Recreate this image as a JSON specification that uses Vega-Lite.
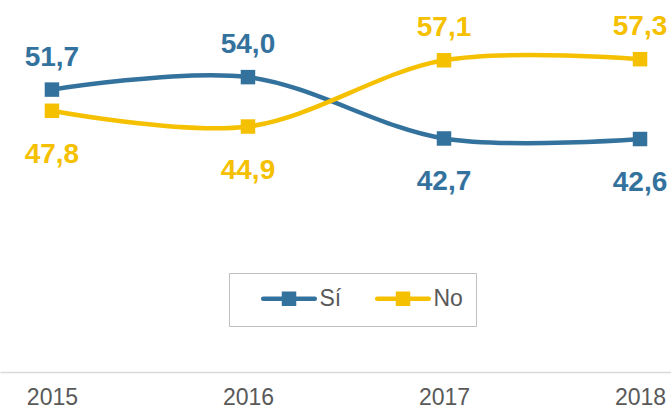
{
  "$schema": "https://vega.github.io/schema/vega-lite/v6.json",
  "width": 671,
  "height": 372,
  "autosize": "none",
  "padding": {"left": 0, "top": 0, "right": 0, "bottom": 39},
  "config": {
    "view": {"stroke": null},
    "font": "Liberation Sans",
    "locale": {"number": {"decimal": ",", "thousands": ".", "grouping": [3], "currency": ["", " €"]}}
  },
  "data": {
    "values": [
      {"year": 2015, "serie": "Sí", "value": 51.7},
      {"year": 2016, "serie": "Sí", "value": 54.0},
      {"year": 2017, "serie": "Sí", "value": 42.7},
      {"year": 2018, "serie": "Sí", "value": 42.6},
      {"year": 2015, "serie": "No", "value": 47.8},
      {"year": 2016, "serie": "No", "value": 44.9},
      {"year": 2017, "serie": "No", "value": 57.1},
      {"year": 2018, "serie": "No", "value": 57.3}
    ]
  },
  "encoding": {
    "x": {
      "field": "year",
      "type": "quantitative",
      "scale": {"domain": [2014.735, 2018.158], "nice": false, "zero": false},
      "axis": {
        "values": [2015, 2016, 2017, 2018],
        "format": "d",
        "ticks": false,
        "grid": false,
        "domainColor": "#d9d9d9",
        "domainWidth": 1.5,
        "labelFontSize": 23,
        "labelColor": "#595959",
        "labelPadding": 14,
        "labelFlush": false,
        "title": null
      }
    },
    "y": {
      "field": "value",
      "type": "quantitative",
      "scale": {"domain": [-0.3, 68.2], "nice": false, "zero": false},
      "axis": null
    },
    "color": {
      "field": "serie",
      "type": "nominal",
      "scale": {"domain": ["Sí", "No"], "range": ["#34729e", "#f5c000"]},
      "legend": {
        "title": " ",
        "titleOrient": "left",
        "titleFontSize": 2,
        "titlePadding": 18,
        "orient": "none",
        "legendX": 229,
        "legendY": 273,
        "direction": "horizontal",
        "symbolType": "M-2.58,0L2.58,0M-0.5,-0.5L0.5,-0.5L0.5,0.5L-0.5,0.5Z",
        "symbolSize": 400,
        "symbolOffset": 16.5,
        "symbolStrokeWidth": 4.5,
        "labelFontSize": 23,
        "labelColor": "#595959",
        "labelOffset": 18,
        "columnPadding": 26,
        "strokeColor": "#bfbfbf",
        "padding": 13,
        "encode": {
          "symbols": {
            "update": {
              "fill": {"scale": "color", "field": "value"},
              "stroke": {"scale": "color", "field": "value"},
              "strokeCap": {"value": "round"},
              "opacity": {"value": 1}
            }
          }
        }
      }
    }
  },
  "layer": [
    {"mark": {"type": "line", "interpolate": "cardinal", "strokeWidth": 4.5}},
    {"mark": {"type": "square", "size": 210, "opacity": 1, "filled": true}},
    {
      "transform": [{"filter": "(datum.serie == 'Sí' && datum.year <= 2016) || (datum.serie == 'No' && datum.year >= 2017)"}],
      "mark": {"type": "text", "dy": -32, "fontSize": 28, "fontWeight": "bold"},
      "encoding": {"text": {"field": "value", "type": "quantitative", "format": ".1f"}}
    },
    {
      "transform": [{"filter": "!((datum.serie == 'Sí' && datum.year <= 2016) || (datum.serie == 'No' && datum.year >= 2017))"}],
      "mark": {"type": "text", "dy": 44, "fontSize": 28, "fontWeight": "bold"},
      "encoding": {"text": {"field": "value", "type": "quantitative", "format": ".1f"}}
    }
  ]
}
